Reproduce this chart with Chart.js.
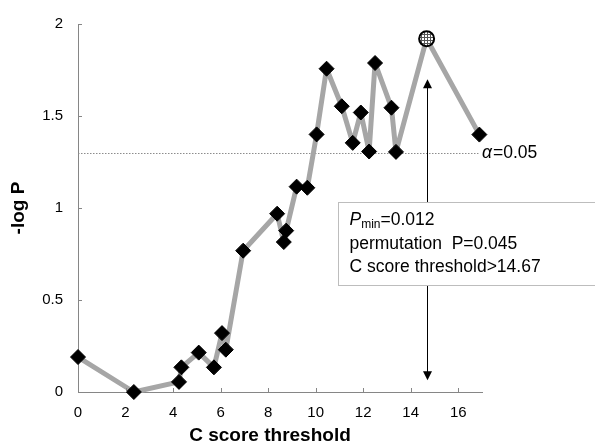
<!DOCTYPE html>
<html>
<head>
    <title>C score threshold</title>
    <script src="https://cdn.jsdelivr.net/npm/chart.js"></script>
    <style>
        html, body { margin: 0; padding: 0; background: #fff; }
        #wrap { width: 595px; height: 445px; }
    </style>
</head>
<body>
<div id="wrap"><canvas id="scoreChart" width="595" height="445"></canvas></div>

<script>
    // 数据
    const thresholds = [0, 2.35, 4.25, 4.35, 5.08, 5.72, 6.06, 6.22, 6.95, 8.38, 8.66, 8.76,
        9.2, 9.65, 10.04, 10.46, 11.1, 11.56, 11.9, 12.25, 12.5, 13.19, 13.38, 14.67, 16.89];
    const logP = [0.19, 0.0, 0.055, 0.134, 0.214, 0.134, 0.32, 0.23, 0.768, 0.969, 0.815, 0.877,
        1.116, 1.11, 1.40, 1.757, 1.553, 1.354, 1.519, 1.307, 1.788, 1.545, 1.305, 1.92, 1.399];
    const yTickLabels = ['0', '0.5', '1', '1.5', '2'];
    const alphaLevel = 1.301;          // -log10(0.05)
    const bestThreshold = 14.67;       // Pmin 位置
    const arrowTop = 1.70;
    const arrowBottom = 0.064;
    const boxLines = ['=0.012', 'permutation  P=0.045', 'C score threshold>14.67'];
    const xTitle = 'C score threshold';

    const FONT = '"Liberation Sans", Arial, sans-serif';
    const points = thresholds.map((x, i) => ({ x: x, y: logP[i] }));
    const bestIndex = thresholds.indexOf(bestThreshold);

    // 最小值点的网纹填充
    function makePattern() {
        const c = document.createElement('canvas');
        c.width = 3; c.height = 3;
        const g = c.getContext('2d');
        g.fillStyle = '#ffffff';
        g.fillRect(0, 0, 3, 3);
        g.fillStyle = '#555555';
        g.fillRect(1, 0, 1, 3);
        g.fillRect(0, 1, 3, 1);
        return g.createPattern(c, 'repeat');
    }
    const dotPattern = makePattern();

    // 刻度线朝内 + x轴标题
    const innerTicks = {
        id: 'innerTicks',
        afterDraw(chart) {
            const ctx = chart.ctx;
            const xs = chart.scales.x, ys = chart.scales.y;
            ctx.save();
            ctx.strokeStyle = '#868686';
            ctx.lineWidth = 1;
            ys.ticks.forEach(t => {
                const py = Math.round(ys.getPixelForValue(t.value)) + 0.5;
                ctx.beginPath();
                ctx.moveTo(xs.left, py);
                ctx.lineTo(xs.left + 4, py);
                ctx.stroke();
            });
            xs.ticks.forEach(t => {
                const px = Math.round(xs.getPixelForValue(t.value)) + 0.5;
                ctx.beginPath();
                ctx.moveTo(px, ys.bottom);
                ctx.lineTo(px, ys.bottom - 4);
                ctx.stroke();
            });
            ctx.fillStyle = '#000';
            ctx.font = 'bold 19px ' + FONT;
            ctx.textAlign = 'center';
            ctx.textBaseline = 'middle';
            ctx.fillText(xTitle, (xs.left + xs.right) / 2 - 10, 436);
            ctx.restore();
        }
    };

    // α 虚线
    const alphaLine = {
        id: 'alphaLine',
        beforeDatasetsDraw(chart) {
            const ctx = chart.ctx;
            const xs = chart.scales.x, ys = chart.scales.y;
            const py = Math.round(ys.getPixelForValue(alphaLevel)) + 0.5;
            ctx.save();
            ctx.strokeStyle = '#8c8c8c';
            ctx.lineWidth = 1;
            ctx.setLineDash([1.5, 1.5]);
            ctx.beginPath();
            ctx.moveTo(xs.left, py);
            ctx.lineTo(xs.getPixelForValue(16.85), py);
            ctx.stroke();
            ctx.setLineDash([]);
            ctx.fillStyle = '#000';
            ctx.textBaseline = 'middle';
            ctx.font = 'italic 17.5px ' + FONT;
            const ax = xs.right;
            ctx.fillText('α', ax, py);
            const aw = ctx.measureText('α').width;
            ctx.font = '17.5px ' + FONT;
            ctx.fillText('=0.05', ax + aw + 1, py);
            ctx.restore();
        }
    };

    // 箭头和文字框
    const pminBox = {
        id: 'pminBox',
        afterDatasetsDraw(chart) {
            const ctx = chart.ctx;
            const xs = chart.scales.x, ys = chart.scales.y;
            const ax = Math.round(xs.getPixelForValue(bestThreshold)) + 0.5;
            const yTop = ys.getPixelForValue(arrowTop);
            const yBot = ys.getPixelForValue(arrowBottom);
            ctx.save();
            ctx.strokeStyle = '#000';
            ctx.fillStyle = '#000';
            ctx.lineWidth = 1;
            ctx.beginPath();
            ctx.moveTo(ax, yTop + 8);
            ctx.lineTo(ax, yBot - 8);
            ctx.stroke();
            // 上箭头
            ctx.beginPath();
            ctx.moveTo(ax, yTop);
            ctx.lineTo(ax - 4.5, yTop + 9);
            ctx.lineTo(ax + 4.5, yTop + 9);
            ctx.closePath();
            ctx.fill();
            // 下箭头
            ctx.beginPath();
            ctx.moveTo(ax, yBot);
            ctx.lineTo(ax - 4.5, yBot - 9);
            ctx.lineTo(ax + 4.5, yBot - 9);
            ctx.closePath();
            ctx.fill();

            // 文字框
            const bx = Math.round(xs.getPixelForValue(10.92)) + 0.5;
            const by = Math.round(ys.getPixelForValue(1.035)) + 0.5;
            const bb = Math.round(ys.getPixelForValue(0.584)) + 0.5;
            ctx.fillStyle = '#fff';
            ctx.fillRect(bx, by, 300, bb - by);
            ctx.strokeStyle = '#bdbdbd';
            ctx.strokeRect(bx, by, 300, bb - by);

            ctx.fillStyle = '#000';
            ctx.textBaseline = 'middle';
            const tx = bx + 11;
            let ty = by + 18;
            ctx.font = 'italic 17.5px ' + FONT;
            ctx.fillText('P', tx, ty);
            let w = ctx.measureText('P').width;
            ctx.font = '12px ' + FONT;
            ctx.fillText('min', tx + w, ty + 4);
            w += ctx.measureText('min').width;
            ctx.font = '17.5px ' + FONT;
            ctx.fillText(boxLines[0], tx + w, ty);
            ty += 23.5;
            ctx.fillText(boxLines[1], tx, ty);
            ty += 23.5;
            ctx.fillText(boxLines[2], tx, ty);
            ctx.restore();
        }
    };

    const ctx = document.getElementById('scoreChart').getContext('2d');
    const chart = new Chart(ctx, {
        type: 'line',
        data: {
            datasets: [{
                data: points,
                borderColor: '#a6a6a6',
                borderWidth: 5,
                borderJoinStyle: 'round',
                borderCapStyle: 'round',
                pointStyle: c => c.dataIndex === bestIndex ? 'circle' : 'rectRot',
                pointRadius: 7.5,
                pointBackgroundColor: c => c.dataIndex === bestIndex ? dotPattern : '#000',
                pointBorderColor: '#000',
                pointBorderWidth: c => c.dataIndex === bestIndex ? 2 : 1,
                tension: 0,
                clip: false
            }]
        },
        options: {
            responsive: false,
            animation: false,
            layout: { padding: { top: 15, right: 113, left: 0, bottom: 0 } },
            plugins: { legend: { display: false }, tooltip: { enabled: false } },
            scales: {
                x: {
                    type: 'linear',
                    min: 0,
                    max: 17,
                    grid: { drawOnChartArea: false, drawTicks: false },
                    border: { color: '#868686' },
                    ticks: {
                        stepSize: 2,
                        includeBounds: false,
                        padding: 12,
                        color: '#000',
                        font: { family: FONT, size: 15 }
                    },
                    afterFit(scale) { scale.height = 53; }
                },
                y: {
                    min: 0,
                    max: 2,
                    grid: { drawOnChartArea: false, drawTicks: false },
                    border: { color: '#868686' },
                    ticks: {
                        stepSize: 0.5,
                        padding: 15,
                        color: '#000',
                        font: { family: FONT, size: 15 },
                        callback: (v, i) => yTickLabels[i]
                    },
                    title: {
                        display: true,
                        text: '-log P',
                        color: '#000',
                        padding: { top: 9, bottom: 0 },
                        font: { family: FONT, size: 19, weight: 'bold', lineHeight: 1 }
                    },
                    afterFit(scale) { scale.width = 78; }
                }
            }
        },
        plugins: [alphaLine, pminBox, innerTicks]
    });
</script>
</body>
</html>
